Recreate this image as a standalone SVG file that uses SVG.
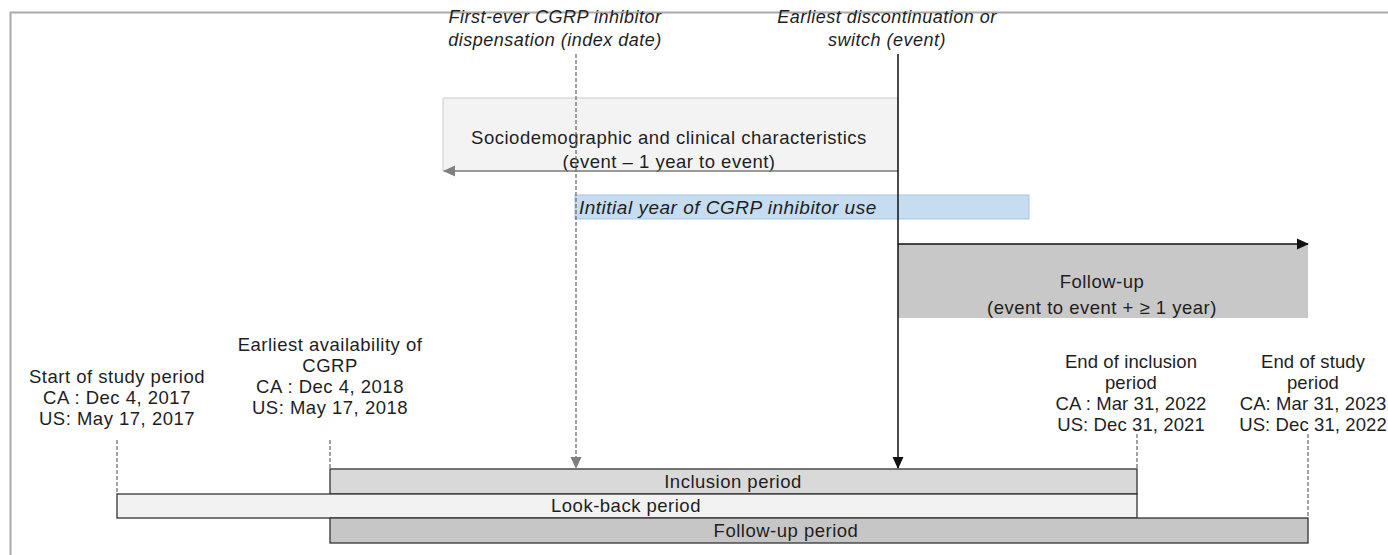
<svg xmlns="http://www.w3.org/2000/svg" width="1388" height="555" viewBox="0 0 1388 555">
<style>
  text { font-family: "Liberation Sans", Arial, sans-serif; font-size: 18.5px; letter-spacing: 0.5px; fill: #1e1e1e; }
  .it { font-style: italic; }
  .top { font-size: 18px; letter-spacing: 0.5px; }
  .blue { font-size: 19px; }
  .tight { letter-spacing: 0.1px; }
  .c { text-anchor: middle; }
  .bar { stroke: #333; stroke-width: 1.3; }
  .dash { stroke: #666; stroke-width: 1.2; stroke-dasharray: 4 2; fill: none; }
</style>
<defs>
  <marker id="ah-black" markerWidth="12" markerHeight="12" refX="11" refY="6" orient="auto" markerUnits="userSpaceOnUse">
    <path d="M0,0.5 L12,6 L0,11.5 z" fill="#111"/>
  </marker>
  <marker id="ah-grey" markerWidth="12" markerHeight="12" refX="11" refY="6" orient="auto" markerUnits="userSpaceOnUse">
    <path d="M0,0.5 L12,6 L0,11.5 z" fill="#808080"/>
  </marker>
</defs>
<rect x="0" y="0" width="1388" height="555" fill="#ffffff"/>
<path d="M10.5,555 V12.5 H1388" fill="none" stroke="#aaaaaa" stroke-width="2"/>

<g id="socio">
  <rect x="443" y="98" width="455" height="73" fill="#f3f3f3" stroke="#cccccc" stroke-width="1"/>
  <text class="c" x="669" y="144">Sociodemographic and clinical characteristics</text>
  <text class="c" x="669" y="168">(event – 1 year to event)</text>
</g>
<g id="initial-year">
  <rect x="575" y="195" width="454" height="24" fill="#c6dcf0" stroke="#a3c5e6" stroke-width="1"/>
  <text class="it blue" x="579" y="214">Intitial year of CGRP inhibitor use</text>
</g>
<g id="followup">
  <rect x="898" y="244" width="410" height="74" fill="#c8c8c8"/>
  <text class="c" x="1102" y="288">Follow-up</text>
  <text class="c" x="1102" y="314">(event to event + ≥ 1 year)</text>
</g>

<g id="label-index">
  <text class="it top c" x="555" y="23">First-ever CGRP inhibitor</text>
  <text class="it top c" x="555" y="46">dispensation (index date)</text>
</g>
<g id="label-event">
  <text class="it top c" x="887" y="23">Earliest discontinuation or</text>
  <text class="it top c" x="887" y="46">switch (event)</text>
</g>
<g id="label-start">
  <text class="c" x="117" y="383">Start of study period</text>
  <text class="c" x="117" y="404">CA : Dec 4, 2017</text>
  <text class="c" x="117" y="425">US: May 17, 2017</text>
</g>
<g id="label-avail">
  <text class="c" x="330" y="351">Earliest availability of</text>
  <text class="c" x="330" y="372">CGRP</text>
  <text class="c" x="330" y="393">CA : Dec 4, 2018</text>
  <text class="c" x="330" y="414">US: May 17, 2018</text>
</g>
<g id="label-endinc">
  <text class="c tight" x="1131" y="368">End of inclusion</text>
  <text class="c tight" x="1131" y="389">period</text>
  <text class="c tight" x="1131" y="410">CA : Mar 31, 2022</text>
  <text class="c tight" x="1131" y="431">US: Dec 31, 2021</text>
</g>
<g id="label-endstudy">
  <text class="c tight" x="1313" y="368">End of study</text>
  <text class="c tight" x="1313" y="389">period</text>
  <text class="c tight" x="1313" y="410">CA: Mar 31, 2023</text>
  <text class="c tight" x="1313" y="431">US: Dec 31, 2022</text>
</g>

<g id="inclusion-period">
  <rect class="bar" x="330" y="469" width="807" height="25" fill="#d9d9d9"/>
  <text class="c" x="733" y="488">Inclusion period</text>
</g>
<g id="lookback-period">
  <rect class="bar" x="117" y="494" width="1020" height="24" fill="#f2f2f2"/>
  <text class="c" x="626" y="512">Look-back period</text>
</g>
<g id="followup-period">
  <rect class="bar" x="330" y="518" width="978" height="25" fill="#c6c6c6"/>
  <text class="c" x="786" y="537">Follow-up period</text>
</g>

<g id="connectors">
  <line x1="898" y1="171" x2="444" y2="171" stroke="#808080" stroke-width="1.5" marker-end="url(#ah-grey)"/>
  <line x1="898" y1="244" x2="1308" y2="244" stroke="#111" stroke-width="1.5" marker-end="url(#ah-black)"/>
  <line class="dash" x1="576" y1="54" x2="576" y2="468" marker-end="url(#ah-grey)"/>
  <line x1="898" y1="54" x2="898" y2="468" stroke="#111" stroke-width="1.5" marker-end="url(#ah-black)"/>
  <line class="dash" x1="117" y1="440" x2="117" y2="494"/>
  <line class="dash" x1="330" y1="440" x2="330" y2="469"/>
  <line class="dash" x1="1137" y1="434" x2="1137" y2="469"/>
  <line class="dash" x1="1308" y1="434" x2="1308" y2="518"/>
</g>
</svg>
